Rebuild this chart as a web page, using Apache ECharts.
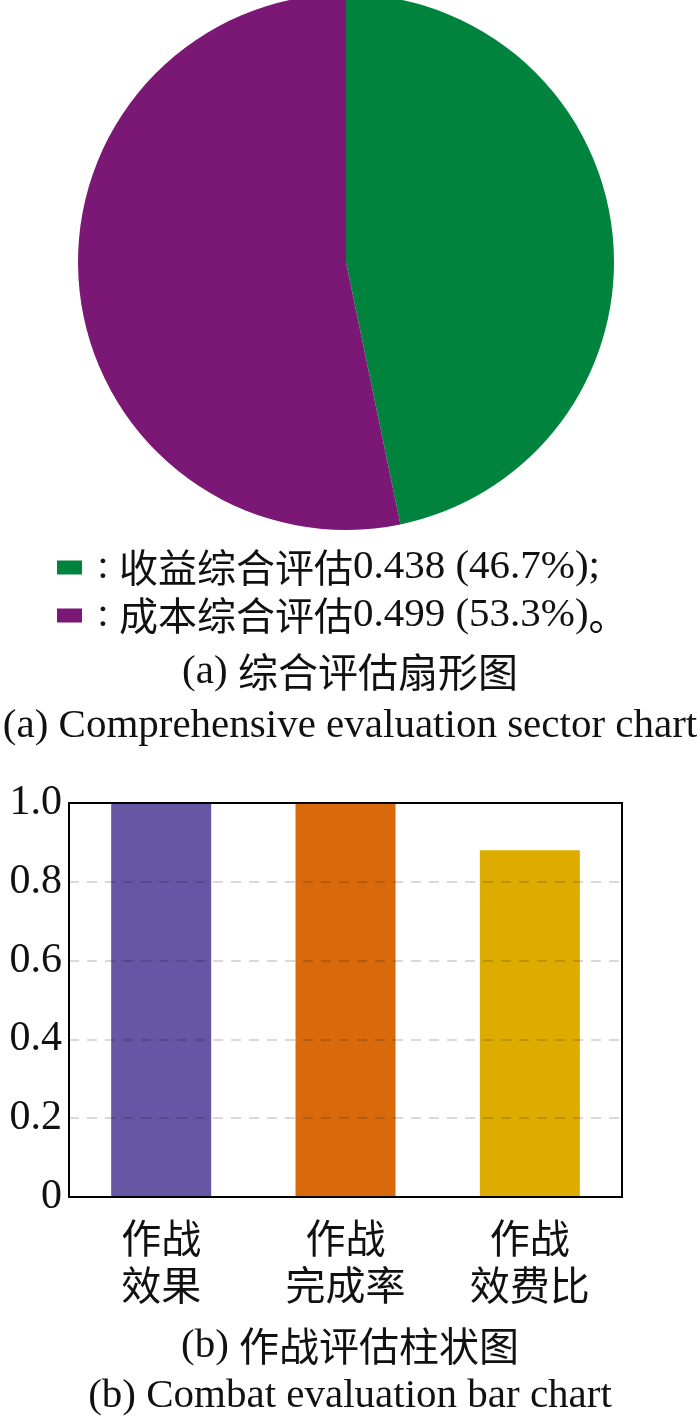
<!DOCTYPE html>
<html>
<head>
<meta charset="utf-8">
<script src="https://cdn.jsdelivr.net/npm/echarts@6/dist/echarts.min.js"></script>
<style>
  html, body { margin: 0; padding: 0; background: #fff; }
  #main { width: 700px; height: 1418px; }
</style>
</head>
<body>
<div id="main"></div>
<script>
	// 饼图数据
	var pieNames = ['收益综合评估', '成本综合评估'];
	var pieValues = [0.438, 0.499];
	var pieEnds = [';', '。'];

	// 柱状图数据
	var barCategories = ['作战\n效果', '作战\n完成率', '作战\n效费比'];
	var barValues = [1.0, 1.0, 0.88];
	var gridValues = [0.2, 0.4, 0.6, 0.8];

	var pieColors = ['#00843d', '#7b1774'];
	var barColors = ['#6656a4', '#d86a0c', '#deac00'];

	var LATIN = "'Liberation Serif', 'Times New Roman', serif";
	var CJK = "'Noto Sans CJK SC', sans-serif";
	var INK = '#111';

	var total = pieValues.reduce(function(a, b) { return a + b; }, 0);

	var rich = {
		n: { fontFamily: LATIN, fontSize: 41, fontWeight: 'normal', color: INK, lineHeight: 48 },
		c: { fontFamily: CJK, fontSize: 39, fontWeight: 'normal', color: INK, lineHeight: 48 },
		cb: { fontFamily: CJK, fontSize: 40, fontWeight: 'normal', color: INK, lineHeight: 48 }
	};

	var myChart = echarts.init(document.getElementById('main'));

	var option = {
		animation: false,
		backgroundColor: '#fff',
		title: [{
			text: '{n|(a) }{cb|综合评估扇形图}',
			left: 'center',
			top: 648,
			padding: 0,
			textStyle: { fontWeight: 'normal', rich: rich }
		}, {
			text: '(a) Comprehensive evaluation sector chart',
			left: 'center',
			top: 703,
			padding: 0,
			textStyle: { fontFamily: LATIN, fontSize: 41, fontWeight: 'normal', color: INK, lineHeight: 46 }
		}, {
			text: '{n|(b) }{cb|作战评估柱状图}',
			left: 'center',
			top: 1322,
			padding: 0,
			textStyle: { fontWeight: 'normal', rich: rich }
		}, {
			text: '(b) Combat evaluation bar chart',
			left: 'center',
			top: 1373,
			padding: 0,
			textStyle: { fontFamily: LATIN, fontSize: 41, fontWeight: 'normal', color: INK, lineHeight: 46 }
		}],
		legend: {
			data: pieNames,
			orient: 'vertical',
			left: 57,
			top: 547,
			padding: 0,
			itemGap: 7,
			itemWidth: 25,
			itemHeight: 14,
			icon: 'rect',
			selectedMode: false,
			textStyle: { rich: rich },
			formatter: function(name) {
				var i = pieNames.indexOf(name);
				var pct = (pieValues[i] / total * 100).toFixed(1);
				var end = pieEnds[i];
				var endTag = /[\u3000-\u303f]/.test(end) ? 'c' : 'n';
				return '{n| : }{c|' + name + '}{n|' + pieValues[i].toFixed(3) + ' (' + pct + '%)}{' + endTag + '|' + end + '}';
			}
		},
		grid: {
			show: true,
			left: 69,
			top: 803,
			width: 553,
			height: 394,
			z: 5,
			backgroundColor: 'transparent',
			borderColor: '#000',
			borderWidth: 2
		},
		xAxis: {
			type: 'category',
			data: barCategories,
			axisLine: { lineStyle: { color: '#000', width: 2 } },
			axisTick: { show: false },
			axisLabel: {
				margin: 17,
				fontFamily: CJK,
				fontSize: 40,
				lineHeight: 47,
				color: INK
			}
		},
		yAxis: {
			type: 'value',
			min: 0,
			max: 1,
			interval: 0.2,
			axisLine: { show: true, lineStyle: { color: '#000', width: 2 } },
			axisTick: { show: false },
			axisLabel: {
				margin: 7,
				fontFamily: LATIN,
				fontSize: 42,
				color: INK,
				formatter: function(v) { return v === 0 ? '0' : v.toFixed(1); }
			},
			splitLine: { show: false }
		},
		series: [{
			type: 'pie',
			center: [346, 262],
			radius: 268,
			startAngle: 90,
			clockwise: true,
			silent: true,
			label: { show: false },
			labelLine: { show: false },
			data: pieNames.map(function(n, i) {
				return { name: n, value: pieValues[i], itemStyle: { color: pieColors[i] } };
			})
		}, {
			type: 'bar',
			barWidth: 100,
			silent: true,
			data: barValues.map(function(v, i) {
				return { value: v, itemStyle: { color: barColors[i] } };
			}),
			// 网格虚线画在柱子上方
			markLine: {
				silent: true,
				symbol: 'none',
				label: { show: false },
				lineStyle: { color: 'rgba(0,0,0,0.2)', width: 1.5, type: [10, 8] },
				emphasis: { disabled: true },
				data: gridValues.map(function(v) { return { yAxis: v }; })
			}
		}]
	};

	myChart.setOption(option);
</script>
</body>
</html>
